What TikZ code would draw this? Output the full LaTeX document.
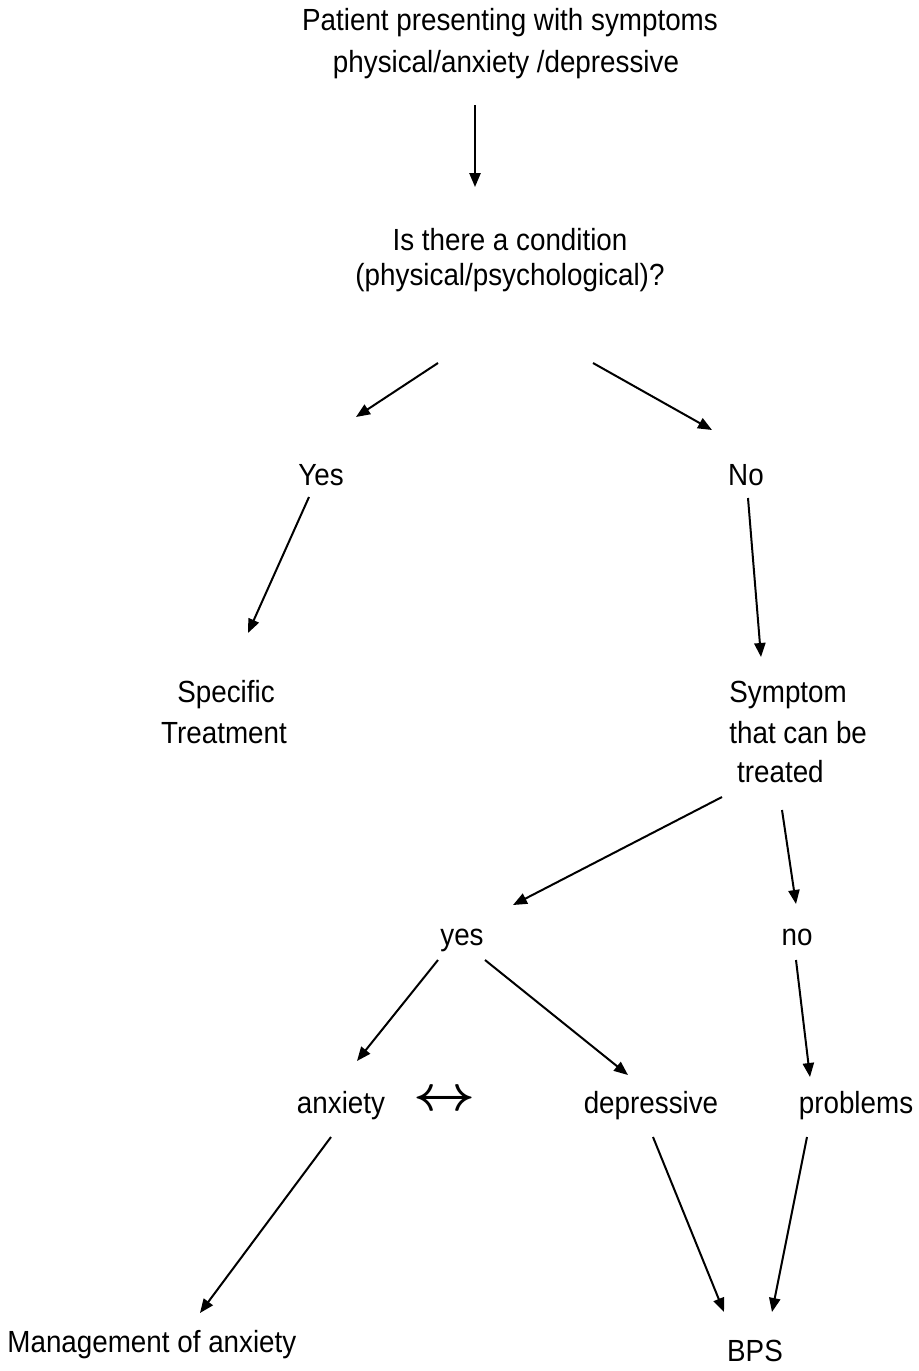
\documentclass[tikz,border=0pt]{standalone}
\usepackage{fontspec}
\usepackage{bm}
\setmainfont{Liberation Sans}
\usetikzlibrary{arrows.meta}
\begin{document}
\begin{tikzpicture}[x=0.5pt,y=-0.5pt,
  lbl/.style={inner sep=0pt, anchor=base, yscale=1.1, font=\fontsize{13.9}{16.7}\selectfont},
  lblw/.style={lbl, anchor=base west},
  flow/.style={line width=1pt, -{Triangle[length=7pt,width=5.6pt]}}]
\useasboundingbox (0,0) rectangle (918,1371);

% texts
\node[lbl] (top1) at (510,30) {Patient presenting with symptoms};
\node[lbl] (top2) at (506,72) {physical/anxiety /depressive};
\node[lbl] (cond1) at (510,250) {Is there a condition};
\node[lbl] (cond2) at (510,285) {(physical/psychological)?};
\node[lbl] (yes1) at (321,485) {Yes};
\node[lbl] (no1) at (746,485) {No};
\node[lbl] (spec1) at (226,702) {Specific};
\node[lbl] (spec2) at (224,743) {Treatment};
\node[lblw] (sym1) at (729,702) {Symptom};
\node[lblw] (sym2) at (729,743) {that can be};
\node[lblw] (sym3) at (729,782) {\hspace*{0.278em}treated};
\node[lbl] (yes2) at (462,945) {yes};
\node[lbl] (no2) at (797,945) {no};
\node[lbl] (anx) at (341,1113) {anxiety};
\node[inner sep=0pt, xscale=2.7, yscale=2.5] (both) at (445,1101) {$\bm{\leftrightarrow}$};
\node[lbl] (dep) at (651,1113) {depressive};
\node[lbl] (prob) at (856,1113) {problems};
\node[lblw] (mgmt) at (7,1352) {Management of anxiety};
\node[lbl] (bps) at (755,1361) {BPS};

% connector end points
\coordinate (a1s) at (475,105);  \coordinate (a1e) at (475,187);
\coordinate (a2s) at (438,363);  \coordinate (a2e) at (356,417);
\coordinate (a3s) at (593,363);  \coordinate (a3e) at (712,430);
\coordinate (a4s) at (309,497);  \coordinate (a4e) at (248,633);
\coordinate (a5s) at (748,498);  \coordinate (a5e) at (761,657);
\coordinate (a6s) at (722,797);  \coordinate (a6e) at (513,905);
\coordinate (a7s) at (782,810);  \coordinate (a7e) at (796,904);
\coordinate (a8s) at (438,960);  \coordinate (a8e) at (357,1061);
\coordinate (a9s) at (485,960);  \coordinate (a9e) at (628,1075);
\coordinate (a10s) at (796,960); \coordinate (a10e) at (810,1077);
\coordinate (a11s) at (331,1137); \coordinate (a11e) at (200,1313);
\coordinate (a12s) at (653,1137); \coordinate (a12e) at (724,1312);
\coordinate (a13s) at (807,1137); \coordinate (a13e) at (772,1312);

% connectors
\draw[flow] (a1s) -- (a1e);
\draw[flow] (a2s) -- (a2e);
\draw[flow] (a3s) -- (a3e);
\draw[flow] (a4s) -- (a4e);
\draw[flow] (a5s) -- (a5e);
\draw[flow] (a6s) -- (a6e);
\draw[flow] (a7s) -- (a7e);
\draw[flow] (a8s) -- (a8e);
\draw[flow] (a9s) -- (a9e);
\draw[flow] (a10s) -- (a10e);
\draw[flow] (a11s) -- (a11e);
\draw[flow] (a12s) -- (a12e);
\draw[flow] (a13s) -- (a13e);
\end{tikzpicture}
\end{document}
